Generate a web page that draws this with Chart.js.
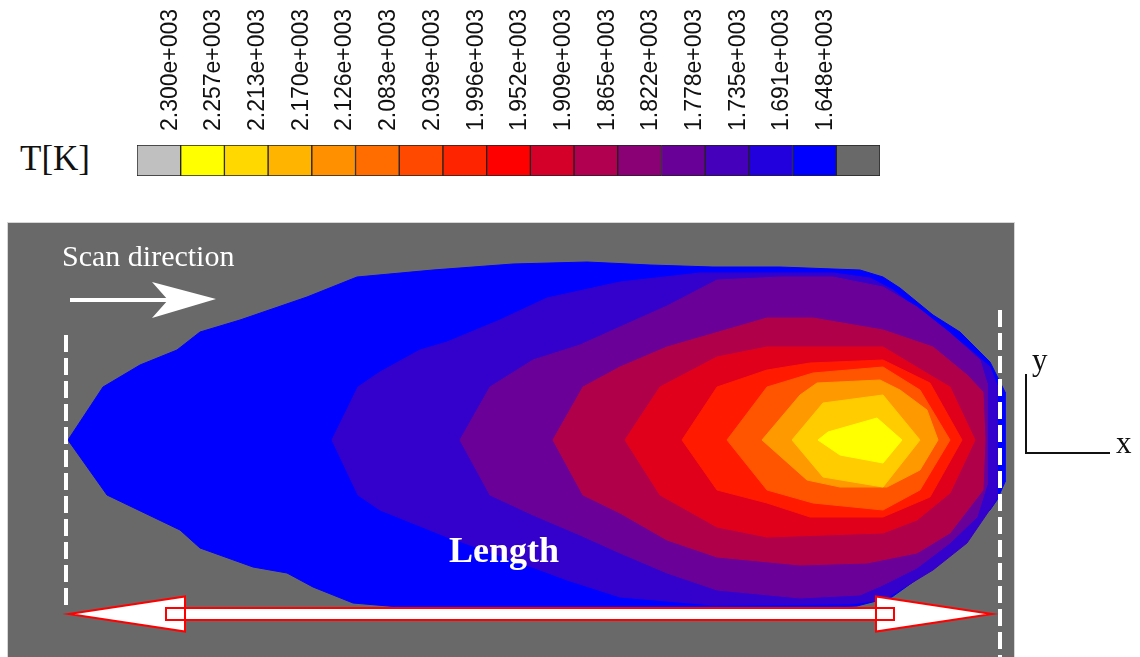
<!DOCTYPE html>
<html>
<head>
<meta charset="utf-8">
<script src="https://cdn.jsdelivr.net/npm/chart.js@4.4.1/dist/chart.umd.min.js"></script>
<style>
  html, body { margin: 0; padding: 0; background: #fff; }
  body { width: 1140px; height: 657px; position: relative; overflow: hidden; }
  #unit { position: absolute; left: 20px; top: 141px; font: 35px "Liberation Serif", "Times New Roman", serif; line-height: 35px; color: #111; }
  #scaleBar { position: absolute; left: 137px; top: 0; }
  #poolChart { position: absolute; left: 0; top: 222px; }
</style>
</head>
<body>
<div id="unit">T[K]</div>
<canvas id="scaleBar" width="743" height="177"></canvas>
<canvas id="poolChart" width="1140" height="435"></canvas>
<script>
// colour scale (legend)
const tempLabels = ["2.300e+003", "2.257e+003", "2.213e+003", "2.170e+003", "2.126e+003", "2.083e+003",
  "2.039e+003", "1.996e+003", "1.952e+003", "1.909e+003", "1.865e+003", "1.822e+003",
  "1.778e+003", "1.735e+003", "1.691e+003", "1.648e+003"];
const legendColors = ["#c0c0c0", "#ffff00", "#ffd800", "#ffb400", "#ff9000", "#ff6c00", "#ff4800", "#ff2400",
  "#ff0000", "#d4002a", "#b0004f", "#8a0075", "#680098", "#4400bb", "#2200dd", "#0000ff", "#696969"];

// melt pool isotherms, outer to inner, [x, y] in plot units (y = 0 on the track centre line)
const poolBlue = [[60,0],[95,53],[132,75],[169,90],[192,108],[232,120],[299,143],[349,163],[425,170],[505,176],
  [579,178],[642,175],[705,173],[772,173],[852,170],[875,163],[892,152],[925,125],[952,108],[982,78],[990,62],
  [997,48],[997,-42],[989,-60],[982,-70],[952,-100],[912,-137],[884,-157],[849,-166],[772,-169],[492,-169],
  [392,-167],[345,-163],[305,-147],[279,-133],[245,-127],[192,-108],[172,-90],[99,-55]];
const poolIndigo = [[324,0],[350,53],[372,68],[412,90],[439,98],[492,120],[539,142],[612,158],[692,167],[825,167],
  [862,162],[885,150],[925,118],[959,93],[982,73],[989,55],[989,-58],[985,-65],[959,-103],[925,-130],[892,-150],
  [875,-160],[842,-164],[705,-165],[612,-157],[559,-140],[505,-120],[439,-97],[372,-70],[350,-55]];
const poolPurple = [[452,0],[482,53],[525,80],[572,95],[612,113],[659,134],[709,160],[772,163],[825,163],[875,153],
  [909,133],[942,107],[972,80],[979,57],[979,-45],[969,-77],[942,-103],[909,-128],[875,-145],[852,-155],[792,-158],
  [709,-150],[659,-133],[612,-113],[572,-95],[525,-75],[482,-55]];
const poolCrimson = [[545,0],[575,53],[612,73],[659,93],[759,122],[805,122],[875,110],[925,93],[959,65],[975,48],
  [977,0],[975,-50],[942,-93],[909,-113],[859,-123],[792,-125],[709,-117],[659,-100],[612,-73],[575,-55]];
const poolRed = [[617,0],[652,53],[709,83],[759,93],[875,93],[925,63],[942,53],[967,0],[942,-53],[909,-80],
  [875,-93],[759,-97],[709,-87],[652,-55]];
const poolScarlet = [[674,0],[709,53],[759,70],[802,77],[875,80],[922,57],[954,0],[922,-57],[875,-77],[802,-77],
  [759,-63],[709,-50]];
const poolOrangeRed = [[719,0],[759,53],[805,67],[875,73],[912,50],[942,0],[912,-50],[875,-70],[805,-63],[759,-50]];
const poolOrange = [[754,0],[792,45],[809,57],[872,60],[892,50],[919,30],[930,0],[912,-30],[879,-47],[832,-47],[799,-40]];
const poolGold = [[784,0],[815,37],[875,45],[912,0],[875,-47],[815,-37]];
const poolYellow = [[810,0],[820,8],[869,22],[894,0],[875,-23],[832,-15]];

const bands = [poolBlue, poolIndigo, poolPurple, poolCrimson, poolRed, poolScarlet, poolOrangeRed, poolOrange, poolGold, poolYellow];
const bandColors = ["#0000ff", "#3300cc", "#6a0098", "#b0004a", "#e0001c", "#ff1a00", "#ff5500", "#ff9900", "#ffcc00", "#ffff00"];

const serif = '"Liberation Serif", "Times New Roman", serif';

new Chart(document.getElementById("scaleBar"), {
  type: "bar",
  data: {
    labels: tempLabels.concat([""]),
    datasets: [{
      data: legendColors.map(() => 1),
      backgroundColor: legendColors,
      borderColor: "#222",
      borderWidth: 1,
      borderSkipped: false,
      barPercentage: 1,
      categoryPercentage: 1
    }]
  },
  options: {
    responsive: false,
    animation: false,
    layout: { padding: { left: 0, right: 0, top: 0, bottom: 1 } },
    plugins: { legend: { display: false }, tooltip: { enabled: false } },
    scales: {
      x: {
        position: "top",
        grid: { display: false, drawTicks: false },
        border: { display: false },
        ticks: {
          autoSkip: false, minRotation: 90, maxRotation: 90, labelOffset: 39, padding: 14,
          color: "#111", font: { family: '"Liberation Sans", Arial, sans-serif', size: 23 }
        },
        afterFit: s => { s.height = 145; s.paddingLeft = 0; s.paddingRight = 0; }
      },
      y: { display: false, min: 0, max: 1 }
    }
  }
});

// background, annotations and the small axis sketch
const poolDecor = {
  id: "poolDecor",
  beforeDraw(chart) {
    const { ctx, chartArea: a } = chart;
    ctx.save();
    ctx.fillStyle = "#696969";
    ctx.fillRect(a.left, a.top, a.width, a.height);
    ctx.strokeStyle = "#d6d6d6";
    ctx.lineWidth = 1;
    ctx.strokeRect(a.left - 0.5, a.top + 0.5, a.width + 1, a.height + 1);
    ctx.restore();
  },
  afterDatasetsDraw(chart) {
    const { ctx } = chart;
    const X = v => chart.scales.x.getPixelForValue(v);
    const Y = v => chart.scales.y.getPixelForValue(v);
    const poly = pts => {
      ctx.beginPath();
      pts.forEach((p, i) => i ? ctx.lineTo(X(p[0]), Y(p[1])) : ctx.moveTo(X(p[0]), Y(p[1])));
      ctx.closePath();
    };
    ctx.save();

    // start / end of the pool
    ctx.strokeStyle = "#fff";
    ctx.lineWidth = 4;
    ctx.setLineDash([17, 6]);
    ctx.beginPath();
    ctx.moveTo(X(58), Y(105)); ctx.lineTo(X(58), Y(-170));
    ctx.moveTo(X(992), Y(130)); ctx.lineTo(X(992), Y(-217));
    ctx.stroke();
    ctx.setLineDash([]);

    // length arrow
    const ly = -174, l0 = 61, l1 = 984;
    const shapes = [
      [[l0, ly], [l0 + 116, ly + 17.5], [l0 + 116, ly - 17.5]],
      [[l1, ly], [l1 - 116, ly + 17.5], [l1 - 116, ly - 17.5]],
      [[l0 + 97, ly + 6], [l1 - 98, ly + 6], [l1 - 98, ly - 6], [l0 + 97, ly - 6]]
    ];
    ctx.fillStyle = "#fff";
    shapes.forEach(s => { poly(s); ctx.fill(); });
    ctx.strokeStyle = "#ff0000";
    ctx.lineWidth = 2;
    shapes.forEach(s => { poly(s); ctx.stroke(); });

    // scan direction arrow
    ctx.strokeStyle = "#fff";
    ctx.lineWidth = 4;
    ctx.beginPath();
    ctx.moveTo(X(62), Y(140)); ctx.lineTo(X(162), Y(140));
    ctx.stroke();
    poly([[208, 141], [144, 158], [160, 140], [144, 122]]);
    ctx.fill();

    ctx.fillStyle = "#fff";
    ctx.textBaseline = "alphabetic";
    ctx.textAlign = "left";
    ctx.font = "30px " + serif;
    ctx.fillText("Scan direction", X(54), Y(174));
    ctx.textAlign = "center";
    ctx.font = "bold 36px " + serif;
    ctx.fillText("Length", X(496), Y(-122));

    // x / y orientation sketch
    ctx.strokeStyle = "#111";
    ctx.lineWidth = 2;
    ctx.beginPath();
    ctx.moveTo(X(1018), Y(66)); ctx.lineTo(X(1018), Y(-13)); ctx.lineTo(X(1102), Y(-13));
    ctx.stroke();
    ctx.fillStyle = "#111";
    ctx.textAlign = "left";
    ctx.font = "31px " + serif;
    ctx.fillText("y", X(1024), Y(70));
    ctx.fillText("x", X(1108), Y(-13));
    ctx.restore();
  }
};

new Chart(document.getElementById("poolChart"), {
  type: "scatter",
  data: {
    datasets: bands.map((pts, i) => ({
      data: pts.concat([pts[0]]).map(p => ({ x: p[0], y: p[1] })),
      showLine: true,
      fill: "shape",
      backgroundColor: bandColors[i],
      borderColor: bandColors[i],
      borderWidth: 1,
      pointRadius: 0,
      tension: 0,
      order: bands.length - i
    }))
  },
  options: {
    responsive: false,
    animation: false,
    layout: { padding: { left: 8, right: 126, top: 0, bottom: 0 } },
    plugins: { legend: { display: false }, tooltip: { enabled: false } },
    scales: {
      x: { type: "linear", display: false, min: 0, max: 1006 },
      y: { type: "linear", display: false, min: -217, max: 218 }
    }
  },
  plugins: [poolDecor]
});
</script>
</body>
</html>
